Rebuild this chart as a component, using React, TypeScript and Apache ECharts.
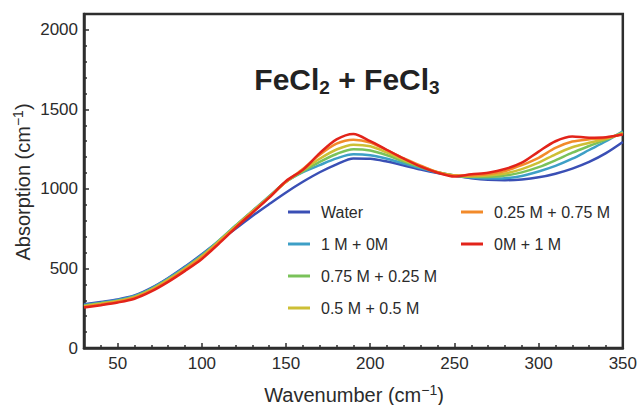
import React, { useEffect, useRef } from 'react';
import * as echarts from 'echarts';

const wavenumbers = [30, 40, 50, 60, 70, 80, 90, 100, 110, 120, 130, 140, 150, 160, 170, 180, 190, 200, 210, 220, 230, 240, 250, 260, 270, 280, 290, 300, 310, 320, 330, 340, 350];

const water = [275, 290, 305, 330, 378, 440, 512, 590, 670, 750, 830, 905, 978, 1045, 1105, 1155, 1192, 1190, 1172, 1148, 1122, 1100, 1083, 1068, 1058, 1055, 1060, 1073, 1096, 1128, 1170, 1225, 1295];
const fe1_0 = [270, 285, 302, 327, 374, 436, 507, 585, 675, 770, 862, 955, 1045, 1105, 1150, 1192, 1218, 1212, 1190, 1160, 1130, 1104, 1085, 1072, 1066, 1068, 1082, 1110, 1145, 1190, 1245, 1300, 1362];
const fe075_025 = [266, 281, 298, 323, 370, 432, 502, 580, 672, 768, 860, 952, 1045, 1110, 1170, 1220, 1250, 1242, 1212, 1172, 1137, 1105, 1085, 1076, 1075, 1084, 1104, 1137, 1180, 1228, 1270, 1310, 1355];
const fe05_05 = [263, 278, 295, 320, 366, 428, 498, 575, 668, 765, 858, 950, 1045, 1118, 1190, 1248, 1278, 1268, 1228, 1182, 1142, 1106, 1085, 1080, 1085, 1097, 1125, 1165, 1218, 1262, 1290, 1315, 1350];
const fe025_075 = [259, 274, 291, 316, 362, 423, 493, 570, 663, 760, 855, 948, 1045, 1125, 1215, 1285, 1310, 1292, 1243, 1192, 1147, 1106, 1085, 1085, 1094, 1112, 1150, 1196, 1258, 1298, 1312, 1320, 1346];
const fe0_1 = [254, 269, 286, 310, 356, 416, 485, 560, 655, 755, 850, 945, 1050, 1120, 1225, 1312, 1346, 1300, 1245, 1190, 1140, 1102, 1078, 1092, 1102, 1125, 1165, 1235, 1300, 1330, 1322, 1325, 1342];

const seriesNames = ['Water', '1 M + 0M', '0.75 M + 0.25 M', '0.5 M + 0.5 M', '0.25 M + 0.75 M', '0M + 1 M'];
const seriesValues = [water, fe1_0, fe075_025, fe05_05, fe025_075, fe0_1];
const seriesColors = ['#3a4fb5', '#3d9fc6', '#7ac25a', '#cdbf35', '#f28a2a', '#e2231a'];

const xMajorTicks = [50, 100, 150, 200, 250, 300, 350];
const xMinorTicks = [40, 60, 70, 80, 90, 110, 120, 130, 140, 160, 170, 180, 190, 210, 220, 230, 240, 260, 270, 280, 290, 310, 320, 330, 340];
const yMajorTicks = [0, 500, 1000, 1500, 2000];
const yMinorTicks = [100, 200, 300, 400, 600, 700, 800, 900, 1100, 1200, 1300, 1400, 1600, 1700, 1800, 1900];

const FONT = 'Liberation Sans, Arial, Helvetica, sans-serif';
const TEXT = '#2b2b2b';
const AXIS = '#2e2e2e';

export default function App() {
  const ref = useRef<HTMLDivElement>(null);
  useEffect(() => {
    if (!ref.current) return;
    const chart = echarts.init(ref.current, null, { renderer: 'svg' });
    const series = seriesNames.map((name, k) => ({
      name,
      type: 'line',
      xAxisIndex: 0,
      yAxisIndex: 0,
      data: wavenumbers.map((x, i) => [x, seriesValues[k][i]]),
      showSymbol: false,
      symbol: 'none',
      smooth: 0.3,
      color: seriesColors[k],
      lineStyle: { width: 2.5, color: seriesColors[k] },
      z: 2 + k,
    }));
    const legendCommon = {
      orient: 'vertical',
      icon: 'rect',
      itemWidth: 22,
      itemHeight: 3,
      itemGap: 16,
      textStyle: { fontSize: 16, fontFamily: FONT, color: TEXT, lineHeight: 16, padding: [0, 0, 0, 6] },
      top: 199,
    };
    const plain = (v: number) => String(v);
    chart.setOption({
      animation: false,
      grid: { left: 84, top: 14, width: 541, height: 334, show: true, borderColor: AXIS, borderWidth: 2.5, backgroundColor: 'transparent' },
      legend: [
        { ...legendCommon, left: 283, data: seriesNames.slice(0, 4) },
        { ...legendCommon, left: 456, data: seriesNames.slice(4) },
      ],
      xAxis: [
        {
          type: 'value', min: 30, max: 350, position: 'bottom',
          axisLine: { show: true, lineStyle: { color: AXIS, width: 2.5 } },
          axisTick: { show: true, inside: true, length: 5, customValues: xMajorTicks, lineStyle: { color: AXIS, width: 1.5 } },
          axisLabel: { show: true, customValues: xMajorTicks, formatter: plain, fontSize: 17, fontFamily: FONT, color: TEXT, margin: 7 },
          splitLine: { show: false },
        },
        {
          type: 'value', min: 30, max: 350, position: 'bottom',
          axisLine: { show: false },
          axisTick: { show: true, inside: true, length: 3, customValues: xMinorTicks, lineStyle: { color: AXIS, width: 1.5 } },
          axisLabel: { show: false },
          splitLine: { show: false },
        },
      ],
      yAxis: [
        {
          type: 'value', min: 0, max: 2100, position: 'left',
          axisLine: { show: true, lineStyle: { color: AXIS, width: 2.5 } },
          axisTick: { show: true, inside: true, length: 5, customValues: yMajorTicks, lineStyle: { color: AXIS, width: 1.5 } },
          axisLabel: { show: true, customValues: yMajorTicks, formatter: plain, fontSize: 17, fontFamily: FONT, color: TEXT, margin: 6 },
          splitLine: { show: false },
        },
        {
          type: 'value', min: 0, max: 2100, position: 'left',
          axisLine: { show: false },
          axisTick: { show: true, inside: true, length: 3, customValues: yMinorTicks, lineStyle: { color: AXIS, width: 1.5 } },
          axisLabel: { show: false },
          splitLine: { show: false },
        },
      ],
      graphic: [
        {
          type: 'text', x: 347, y: 79, z: 10,
          style: {
            text: '{t|FeCl}{s|2}{t| + FeCl}{s|3}',
            align: 'center', verticalAlign: 'middle', textAlign: 'center', textVerticalAlign: 'middle',
            rich: {
              t: { fontSize: 30, fontWeight: 'bold', fontFamily: FONT, fill: '#222', color: '#222', lineHeight: 36 },
              s: { fontSize: 19, fontWeight: 'bold', fontFamily: FONT, fill: '#222', color: '#222', lineHeight: 16, verticalAlign: 'bottom' },
            },
          },
        },
        {
          type: 'text', x: 354, y: 395, z: 10,
          style: {
            text: '{a|Wavenumber (cm}{s|\u22121}{a|)}',
            align: 'center', verticalAlign: 'middle', textAlign: 'center', textVerticalAlign: 'middle',
            rich: {
              a: { fontSize: 20, fontFamily: FONT, fill: TEXT, color: TEXT, lineHeight: 24 },
              s: { fontSize: 14, fontFamily: FONT, fill: TEXT, color: TEXT, lineHeight: 12, verticalAlign: 'top' },
            },
          },
        },
        {
          type: 'text', x: 23, y: 182, rotation: Math.PI / 2, z: 10,
          style: {
            text: '{a|Absorption (cm}{s|\u22121}{a|)}',
            align: 'center', verticalAlign: 'middle', textAlign: 'center', textVerticalAlign: 'middle',
            rich: {
              a: { fontSize: 20, fontFamily: FONT, fill: TEXT, color: TEXT, lineHeight: 24 },
              s: { fontSize: 14, fontFamily: FONT, fill: TEXT, color: TEXT, lineHeight: 12, verticalAlign: 'top' },
            },
          },
        },
      ],
      series,
    });
    return () => chart.dispose();
  }, []);
  return <div ref={ref} style={{ position: 'fixed', left: 0, top: 0, width: 640, height: 405, background: '#fff' }} />;
}
